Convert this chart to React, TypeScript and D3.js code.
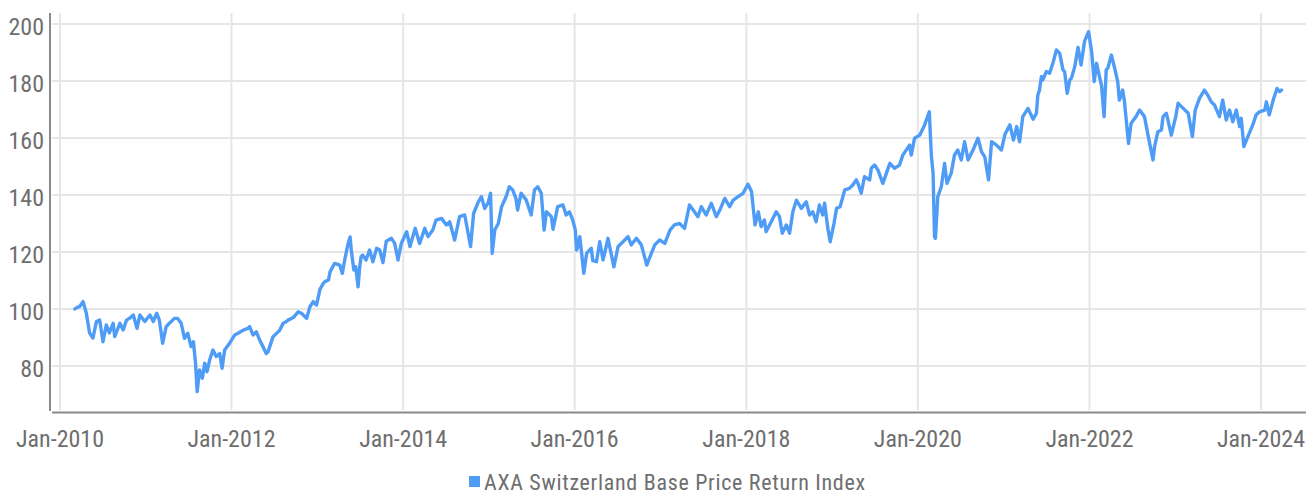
import React from "react";
import * as d3 from "d3";

// ---- data ----
const SERIES_NAME = "AXA Switzerland Base Price Return Index";

const y2010: [string, number][] = [
  ["2010-03-05", 100.0], ["2010-03-15", 100.6], ["2010-03-25", 100.8], ["2010-04-09", 102.6],
  ["2010-04-23", 98.6], ["2010-05-07", 91.6], ["2010-05-21", 89.8], ["2010-06-05", 95.6],
  ["2010-06-19", 96.1], ["2010-07-03", 88.5], ["2010-07-17", 94.4], ["2010-07-30", 91.6],
  ["2010-08-15", 95.0], ["2010-08-22", 90.3], ["2010-09-13", 95.0], ["2010-09-27", 92.6],
  ["2010-10-11", 96.1], ["2010-10-25", 96.8], ["2010-11-09", 97.9], ["2010-11-25", 93.2],
  ["2010-12-07", 97.9], ["2010-12-28", 95.6],
];
const y2011: [string, number][] = [
  ["2011-01-19", 97.9], ["2011-02-02", 95.6], ["2011-02-17", 98.5], ["2011-02-28", 96.1],
  ["2011-03-14", 88.0], ["2011-03-29", 93.8], ["2011-04-12", 95.0], ["2011-05-03", 96.7],
  ["2011-05-17", 96.7], ["2011-06-01", 95.0], ["2011-06-15", 89.7], ["2011-06-29", 91.5],
  ["2011-07-13", 86.8], ["2011-07-23", 88.5], ["2011-08-01", 81.0], ["2011-08-08", 71.0],
  ["2011-08-18", 78.6], ["2011-08-30", 75.7], ["2011-09-09", 81.0], ["2011-09-19", 78.0],
  ["2011-09-30", 82.1], ["2011-10-14", 85.6], ["2011-10-28", 83.3], ["2011-11-12", 84.4],
  ["2011-11-22", 79.2], ["2011-12-03", 85.6], ["2011-12-24", 88.0],
];
const y2012: [string, number][] = [
  ["2012-01-15", 90.9], ["2012-01-29", 91.5], ["2012-02-20", 92.6], ["2012-03-11", 93.2],
  ["2012-03-18", 93.8], ["2012-04-02", 90.9], ["2012-04-16", 92.0], ["2012-04-30", 89.1],
  ["2012-05-14", 86.8], ["2012-05-28", 84.4], ["2012-06-05", 85.0], ["2012-06-12", 86.8],
  ["2012-06-26", 90.3], ["2012-07-24", 92.5], ["2012-08-08", 95.0], ["2012-08-22", 95.6],
  ["2012-08-29", 96.1], ["2012-09-20", 97.0], ["2012-10-11", 99.0], ["2012-10-25", 98.5],
  ["2012-11-16", 96.7], ["2012-11-30", 100.8], ["2012-12-14", 102.6], ["2012-12-28", 101.4],
];
const y2013: [string, number][] = [
  ["2013-01-12", 107.0], ["2013-01-26", 109.0], ["2013-02-02", 109.6], ["2013-02-17", 110.2],
  ["2013-02-24", 113.1], ["2013-03-15", 116.0], ["2013-04-06", 115.4], ["2013-04-17", 112.5],
  ["2013-04-27", 117.2], ["2013-05-11", 122.8], ["2013-05-20", 125.3], ["2013-05-25", 120.7],
  ["2013-06-05", 113.7], ["2013-06-13", 114.8], ["2013-06-23", 107.8], ["2013-06-30", 114.8],
  ["2013-07-06", 118.4], ["2013-07-13", 118.9], ["2013-07-27", 117.2], ["2013-08-11", 120.7],
  ["2013-08-25", 116.6], ["2013-09-10", 121.3], ["2013-09-23", 120.7], ["2013-10-07", 116.3],
  ["2013-10-21", 123.8], ["2013-11-12", 124.8], ["2013-11-26", 123.0], ["2013-12-10", 117.2],
  ["2013-12-24", 123.0],
];
const y2014: [string, number][] = [
  ["2014-01-16", 127.1], ["2014-01-30", 121.9], ["2014-02-21", 128.3], ["2014-03-12", 123.0],
  ["2014-04-03", 128.3], ["2014-04-17", 125.4], ["2014-05-07", 127.7], ["2014-05-21", 131.2],
  ["2014-06-13", 131.8], ["2014-07-04", 129.5], ["2014-07-18", 130.6], ["2014-08-08", 124.2],
  ["2014-08-29", 132.4], ["2014-09-20", 133.0], ["2014-10-15", 121.9], ["2014-10-28", 133.6],
  ["2014-11-17", 137.6], ["2014-11-30", 139.4], ["2014-12-14", 135.3], ["2014-12-28", 137.1],
];
const y2015: [string, number][] = [
  ["2015-01-08", 140.6], ["2015-01-15", 119.5], ["2015-01-26", 127.7], ["2015-02-10", 130.0],
  ["2015-02-24", 135.9], ["2015-03-15", 139.4], ["2015-03-29", 142.9], ["2015-04-12", 141.8],
  ["2015-04-26", 138.8], ["2015-05-03", 134.7], ["2015-05-18", 140.6], ["2015-06-09", 138.2],
  ["2015-06-30", 133.0], ["2015-07-14", 141.8], ["2015-07-28", 142.9], ["2015-08-12", 140.6],
  ["2015-08-24", 127.7], ["2015-09-03", 134.1], ["2015-09-24", 132.4], ["2015-10-01", 128.0],
  ["2015-10-21", 135.9], ["2015-11-12", 136.5], ["2015-11-26", 133.0], ["2015-12-10", 134.1],
  ["2015-12-24", 131.2],
];
const y2016: [string, number][] = [
  ["2016-01-04", 127.7], ["2016-01-09", 120.7], ["2016-01-15", 121.9], ["2016-01-23", 125.4],
  ["2016-02-09", 112.5], ["2016-02-21", 119.5], ["2016-03-05", 120.7], ["2016-03-12", 121.3],
  ["2016-03-18", 117.0], ["2016-04-03", 116.6], ["2016-04-17", 123.6], ["2016-05-01", 117.2],
  ["2016-05-22", 124.8], ["2016-06-16", 114.8], ["2016-07-04", 121.9], ["2016-07-25", 123.6],
  ["2016-08-15", 125.4], ["2016-08-29", 122.5], ["2016-09-20", 124.8], ["2016-10-11", 122.5],
  ["2016-11-03", 115.4], ["2016-11-17", 118.4], ["2016-12-07", 122.5], ["2016-12-28", 124.2],
];
const y2017: [string, number][] = [
  ["2017-01-19", 123.0], ["2017-02-10", 127.7], ["2017-03-01", 129.5], ["2017-03-22", 130.0],
  ["2017-04-13", 128.3], ["2017-05-04", 136.5], ["2017-05-25", 134.1], ["2017-06-09", 132.4],
  ["2017-06-23", 135.9], ["2017-07-14", 133.0], ["2017-08-05", 137.1], ["2017-08-26", 132.4],
  ["2017-09-10", 134.7], ["2017-10-01", 138.8], ["2017-10-22", 135.9], ["2017-11-06", 138.2],
  ["2017-11-27", 139.4], ["2017-12-18", 140.6],
];
const y2018: [string, number][] = [
  ["2018-01-08", 143.8], ["2018-01-23", 141.2], ["2018-02-07", 129.5], ["2018-02-21", 134.1],
  ["2018-03-05", 128.9], ["2018-03-19", 131.2], ["2018-03-26", 127.1], ["2018-04-17", 130.6],
  ["2018-05-08", 134.1], ["2018-05-22", 132.4], ["2018-06-03", 126.6], ["2018-06-20", 129.5],
  ["2018-07-04", 126.6], ["2018-07-18", 134.1], ["2018-08-02", 138.2], ["2018-08-23", 135.3],
  ["2018-09-13", 137.6], ["2018-09-27", 133.0], ["2018-10-11", 134.1], ["2018-10-25", 130.6],
  ["2018-11-08", 136.5], ["2018-11-22", 133.0], ["2018-11-30", 137.1], ["2018-12-14", 128.3],
  ["2018-12-24", 123.6],
];
const y2019: [string, number][] = [
  ["2019-01-09", 130.0], ["2019-01-20", 135.3], ["2019-02-04", 135.9], ["2019-02-24", 141.8],
  ["2019-03-16", 142.3], ["2019-03-30", 143.5], ["2019-04-14", 145.3], ["2019-04-21", 144.1],
  ["2019-05-05", 140.6], ["2019-05-19", 146.4], ["2019-06-10", 145.3], ["2019-06-17", 149.4],
  ["2019-07-01", 150.5], ["2019-07-15", 148.8], ["2019-08-05", 144.1], ["2019-09-04", 151.1],
  ["2019-09-24", 149.4], ["2019-10-15", 150.5], ["2019-10-29", 154.0], ["2019-11-27", 157.5],
  ["2019-12-04", 154.0], ["2019-12-18", 159.9],
];
const y2020: [string, number][] = [
  ["2020-01-09", 161.0], ["2020-01-30", 164.6], ["2020-02-19", 169.2], ["2020-02-24", 159.9],
  ["2020-02-28", 153.4], ["2020-03-06", 147.6], ["2020-03-12", 125.4], ["2020-03-16", 124.8],
  ["2020-03-26", 139.4], ["2020-04-10", 142.9], ["2020-04-24", 151.1], ["2020-05-04", 144.1],
  ["2020-05-22", 147.6], ["2020-06-05", 154.0], ["2020-06-19", 155.8], ["2020-07-04", 152.3],
  ["2020-07-18", 158.7], ["2020-08-02", 152.3], ["2020-08-23", 155.8], ["2020-09-13", 159.9],
  ["2020-09-28", 155.2], ["2020-10-12", 153.4], ["2020-10-28", 145.3], ["2020-11-10", 158.7],
  ["2020-12-01", 157.5], ["2020-12-22", 155.8],
];
const y2021: [string, number][] = [
  ["2021-01-06", 161.3], ["2021-01-27", 164.6], ["2021-02-11", 159.3], ["2021-02-25", 164.0],
  ["2021-03-09", 158.7], ["2021-03-23", 167.5], ["2021-04-14", 170.4], ["2021-05-06", 166.6],
  ["2021-05-20", 168.7], ["2021-05-26", 175.1], ["2021-06-02", 176.8], ["2021-06-10", 181.5],
  ["2021-06-16", 180.4], ["2021-07-01", 183.3], ["2021-07-15", 182.7], ["2021-07-29", 186.2],
  ["2021-08-13", 190.9], ["2021-08-27", 189.7], ["2021-09-10", 183.9], ["2021-09-17", 183.3],
  ["2021-09-28", 175.7], ["2021-10-09", 180.4], ["2021-10-16", 181.0], ["2021-10-30", 185.0],
  ["2021-11-13", 191.8], ["2021-11-26", 185.6], ["2021-12-11", 194.0], ["2021-12-28", 197.3],
];
const y2022: [string, number][] = [
  ["2022-01-10", 190.3], ["2022-01-21", 179.8], ["2022-01-31", 186.2], ["2022-02-14", 180.9],
  ["2022-02-21", 178.5], ["2022-03-04", 167.5], ["2022-03-13", 183.9], ["2022-03-20", 184.5],
  ["2022-04-04", 189.1], ["2022-04-18", 184.5], ["2022-05-01", 179.8], ["2022-05-08", 173.3],
  ["2022-05-22", 176.8], ["2022-05-29", 173.3], ["2022-06-16", 158.1], ["2022-06-27", 165.2],
  ["2022-07-18", 167.5], ["2022-08-02", 169.8], ["2022-08-23", 167.5], ["2022-09-07", 161.0],
  ["2022-09-28", 152.3], ["2022-10-05", 157.0], ["2022-10-19", 162.2], ["2022-11-03", 162.8],
  ["2022-11-10", 167.5], ["2022-11-24", 168.7], ["2022-12-01", 166.3], ["2022-12-15", 161.0],
];
const y2023: [string, number][] = [
  ["2023-01-03", 167.5], ["2023-01-13", 172.2], ["2023-02-04", 170.4], ["2023-02-25", 168.7],
  ["2023-03-15", 160.5], ["2023-03-27", 169.8], ["2023-04-14", 173.9], ["2023-05-05", 176.8],
  ["2023-05-19", 175.1], ["2023-06-03", 172.7], ["2023-06-17", 171.6], ["2023-07-08", 167.5],
  ["2023-07-22", 173.3], ["2023-08-06", 166.3], ["2023-08-20", 169.8], ["2023-09-03", 165.7],
  ["2023-09-18", 169.8], ["2023-10-02", 164.0], ["2023-10-09", 166.9], ["2023-10-20", 157.0],
  ["2023-11-06", 160.5], ["2023-11-27", 164.6], ["2023-12-11", 168.1], ["2023-12-25", 169.2],
];
const y2024: [string, number][] = [
  ["2024-01-17", 169.8], ["2024-01-24", 172.7], ["2024-02-05", 168.1], ["2024-02-22", 173.3],
  ["2024-03-09", 177.4], ["2024-03-20", 176.3], ["2024-03-28", 176.8],
];

const yTicks = [80, 100, 120, 140, 160, 180, 200];
const xTickYears = [2010, 2012, 2014, 2016, 2018, 2020, 2022, 2024];

// ---- layout ----
const W = 1314;
const H = 496;
const FONT = "'Liberation Sans Narrow', 'Roboto Condensed', 'DejaVu Sans Condensed', sans-serif";
const LABEL = "#6e6e6e";
const GRID = "#e6e6e6";
const AXIS = "#8a8a8a";
const LINE = "#4f9cf7";

export default function App() {
  const parse = d3.timeParse("%Y-%m-%d");
  const data = [
    ...y2010, ...y2011, ...y2012, ...y2013, ...y2014, ...y2015, ...y2016,
    ...y2017, ...y2018, ...y2019, ...y2020, ...y2021, ...y2022, ...y2023, ...y2024,
  ].map(([d, v]) => ({ date: parse(d) as Date, value: v }));

  const x = d3.scaleTime()
    .domain([new Date(2010, 0, 1), new Date(2024, 0, 1)])
    .range([60, 1261]);
  const y = d3.scaleLinear().domain([80, 200]).range([366, 24]);

  const plotLeft = 50;
  const plotRight = 1306;
  const plotTop = 13;
  const plotBottom = 412;

  const line = d3.line<{ date: Date; value: number }>()
    .x((d) => x(d.date))
    .y((d) => y(d.value));

  const fmt = d3.timeFormat("%b-%Y");
  const xTicks = xTickYears.map((yr) => new Date(yr, 0, 1));

  return (
    <svg
      width={W}
      height={H}
      style={{ position: "absolute", left: 0, top: 0, display: "block", background: "#fff" }}
      fontFamily={FONT}
    >
      {/* gridlines */}
      {yTicks.map((t) => (
        <line key={"gy" + t} x1={plotLeft + 2} x2={plotRight} y1={y(t)} y2={y(t)} stroke={GRID} strokeWidth={2} />
      ))}
      {xTicks.map((t, i) => (
        <line key={"gx" + i} x1={x(t)} x2={x(t)} y1={plotTop} y2={plotBottom - 2} stroke={GRID} strokeWidth={2} />
      ))}

      {/* axes */}
      <line x1={plotLeft} x2={plotLeft} y1={plotTop} y2={plotBottom - 1} stroke={AXIS} strokeWidth={2} />
      <line x1={plotLeft + 2} x2={plotRight} y1={plotBottom + 0.5} y2={plotBottom + 0.5} stroke={AXIS} strokeWidth={2} />

      {/* series */}
      <path d={line(data) || ""} fill="none" stroke={LINE} strokeWidth={3.4} strokeLinejoin="round" strokeLinecap="round" />

      {/* y labels */}
      {yTicks.map((t) => (
        <text key={"ly" + t} x={plotLeft - 6} y={y(t) + 11} textAnchor="end" fontSize={24} fill={LABEL}>
          {t}
        </text>
      ))}
      {/* x labels */}
      {xTicks.map((t, i) => (
        <text key={"lx" + i} x={x(t)} y={446.5} textAnchor="middle" fontSize={24} fill={LABEL}>
          {fmt(t)}
        </text>
      ))}

      {/* legend */}
      <rect x={469} y={476} width={11} height={11} fill={LINE} />
      <text x={484} y={490} fontSize={22} letterSpacing={0.7} fill={LABEL}>
        {SERIES_NAME}
      </text>
    </svg>
  );
}
